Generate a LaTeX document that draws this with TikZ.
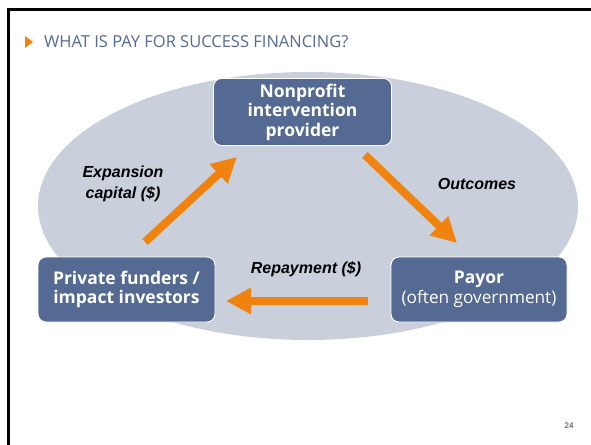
\documentclass[tikz,border=0pt]{standalone}
\usepackage{fontspec}
\setmainfont{Open Sans}[Ligatures=NoCommon]
\newfontfamily\arialfont{Liberation Sans}
\usetikzlibrary{arrows.meta}
\definecolor{slateblue}{HTML}{546A92}
\definecolor{ovalgray}{HTML}{C9D0DC}
\definecolor{flowor}{HTML}{F0820F}
\begin{document}
\begin{tikzpicture}[x=1pt,y=-1pt,
  party/.style={draw=white,line width=0.9pt,fill=slateblue,rounded corners=8pt,
    text=white,align=center,inner sep=0pt,font=\fontsize{17.5}{19.5}\selectfont\bfseries},
  flow/.style={draw=flowor,line width=8pt,
    -{Triangle[length=25pt,width=25pt]}},
  flowlabel/.style={align=center,font=\arialfont\fontsize{16}{21}\selectfont\bfseries\itshape}]
\useasboundingbox (0,0) rectangle (591,444);
\fill[white] (0,0) rectangle (591,444);
% slide frame
\draw[line width=3pt] (8,446) -- (8,10) -- (593,10);
% heading
\fill[flowor] (25,36) -- (33,42) -- (25,48) -- cycle;
\node[anchor=west,text=slateblue,inner sep=0pt,font=\fontsize{16.5}{18}\selectfont] (title) at (44,42) {WHAT IS PAY FOR SUCCESS FINANCING?};
% backdrop oval
\fill[ovalgray] (308,206) ellipse [x radius=270, y radius=134];
% parties
\node[party,minimum width=178pt,minimum height=67pt] (np) at (302.5,112) {Nonprofit\\intervention\\provider};
\node[party,minimum width=177pt,minimum height=65pt] (pf) at (126.5,289.5) {Private funders /\\impact investors};
\node[party,minimum width=176pt,minimum height=65pt] (py) at (479,289.5) {Payor\\{\mdseries\fontsize{17.2}{19.5}\selectfont (often government)}};
% money and outcome flows
\coordinate (e1) at (145,242);
\coordinate (e2) at (237,157);
\coordinate (o1) at (365,155);
\coordinate (o2) at (457,243);
\coordinate (r1) at (368,301);
\coordinate (r2) at (226,301);
\draw[flow] (e1) -- (e2);
\draw[flow] (o1) -- (o2);
\draw[flow] (r1) -- (r2);
% flow labels
\node[flowlabel] (lexp) at (123,184) {Expansion\\capital (\$)};
\node[flowlabel] (lout) at (477,184) {Outcomes};
\node[flowlabel] (lrep) at (306,269) {Repayment (\$)};
% page number
\node[font=\arialfont\fontsize{8}{9}\selectfont,text=black!80] (pg) at (569,426) {24};
\end{tikzpicture}
\end{document}
